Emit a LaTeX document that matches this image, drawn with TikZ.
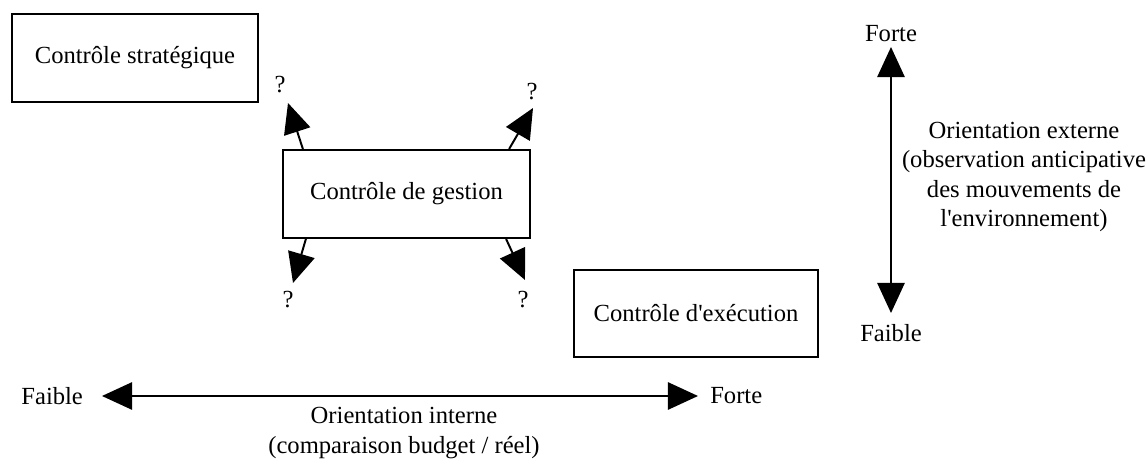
\documentclass[tikz,border=0pt]{standalone}
\usepackage{fontspec}
\setmainfont{Liberation Serif}[Ligatures=TeXOff]
\usetikzlibrary{arrows.meta,positioning,calc}
\newcommand{\diagfont}{\fontsize{17.5}{20.8}\selectfont}

\begin{document}
\begin{tikzpicture}[
    x=0.025cm, y=-0.025cm,
    box/.style={rectangle, draw, line width=1.4pt, inner sep=0pt, align=center, font=\diagfont},
    lbl/.style={inner sep=0pt, align=center, font=\diagfont},
    arrow/.style={-{Triangle[length=0.75cm, width=0.68cm]}, line width=1.4pt},
    axis/.style={{Triangle[length=0.75cm, width=0.68cm]}-{Triangle[length=0.75cm, width=0.68cm]}, line width=1.4pt}
]
\useasboundingbox (0,0) rectangle (1147,465);
\node[box, minimum width=6.15cm, minimum height=2.2cm] (strat) at (135,58)    {Contrôle stratégique};
\node[box, minimum width=6.18cm, minimum height=2.2cm] (gest) at (406.5,194)  {Contrôle de gestion};
\node[box, minimum width=6.1cm, minimum height=2.18cm] (exec) at (696,313.5)  {Contrôle d'exécution};

% arrows around the management control box
\coordinate (tl) at (288,103);
\coordinate (tr) at (533,108);
\coordinate (bl) at (293,283);
\coordinate (br) at (525,280);
\node[lbl] (qtl) at (280,85)  {?};
\node[lbl] (qtr) at (532,92)  {?};
\node[lbl] (qbl) at (288,300) {?};
\node[lbl] (qbr) at (523,300) {?};
\draw[arrow] ($(gest.north west)+(21,0)$) -- (tl);
\draw[arrow] ($(gest.north east)+(-22,0)$) -- (tr);
\draw[arrow] ($(gest.south west)+(24,0)$) -- (bl);
\draw[arrow] ($(gest.south east)+(-25,0)$) -- (br);

% horizontal axis
\coordinate (hl) at (102,396);
\coordinate (hr) at (698,396);
\node[lbl, left=0.47cm of hl] (hfaible) {Faible};
\node[lbl, right=0.3cm of hr] (hforte) {Forte};
\draw[axis] (hl) -- (hr);
\node[lbl] (hlabel) at (404,433) {Orientation interne\\(comparaison budget / réel)};

% vertical axis
\coordinate (vt) at (891,47);
\coordinate (vb) at (891,313);
\node[lbl, above=0.12cm of vt] (vforte) {Forte};
\node[lbl, below=0.28cm of vb] (vfaible) {Faible};
\draw[axis] (vt) -- (vb);
\node[lbl] (vlabel) at (1024,177) {Orientation externe\\(observation anticipative\\des mouvements de\\l'environnement)};
\end{tikzpicture}
\end{document}
